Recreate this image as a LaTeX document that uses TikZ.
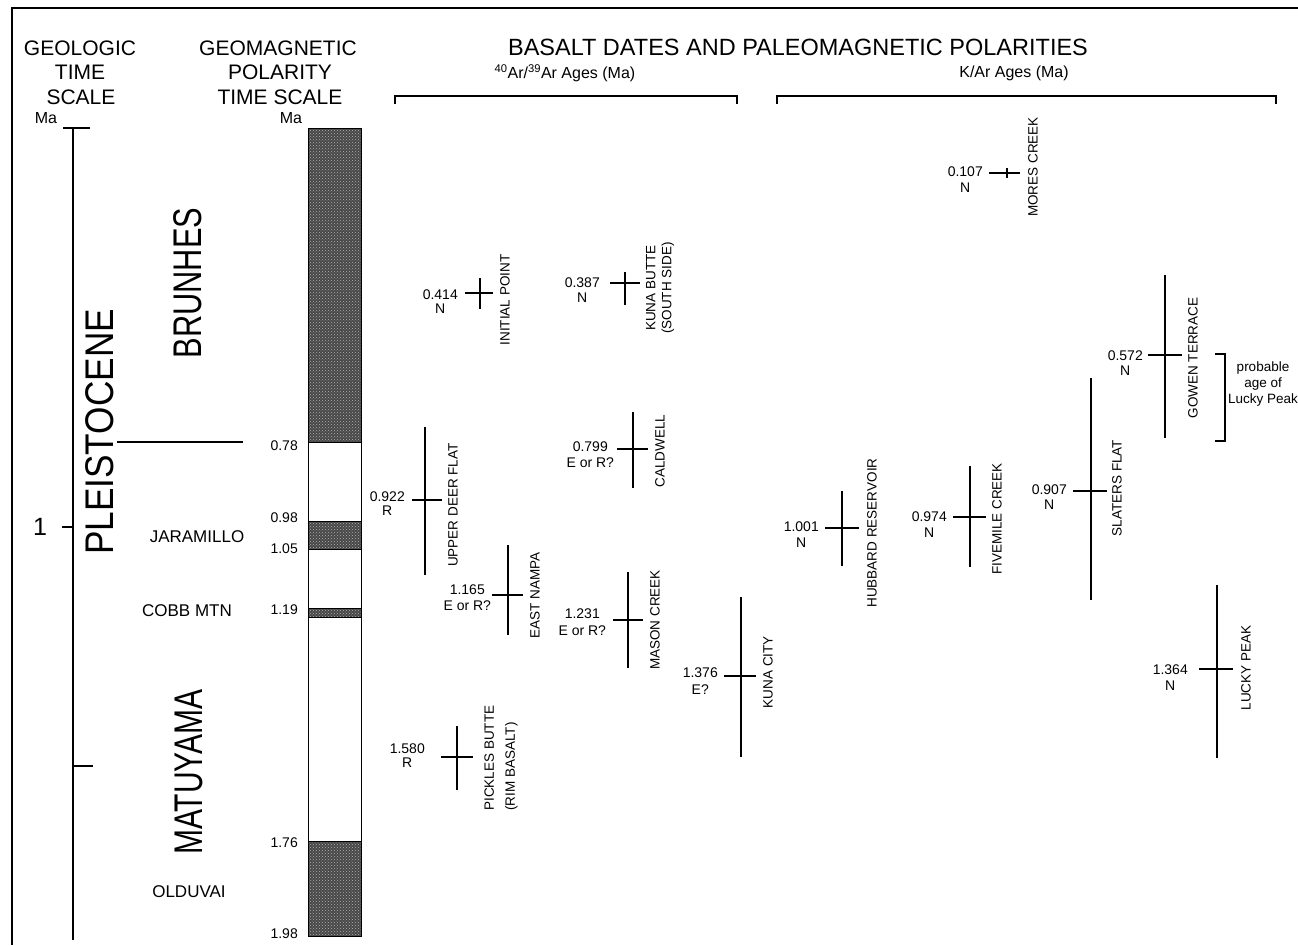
\documentclass[tikz,border=0pt]{standalone}
\usepackage{fontspec}
\setmainfont{Liberation Sans}
\usetikzlibrary{patterns}
\begin{document}
\begin{tikzpicture}[x=1pt,y=-1pt,
  hd/.style={font=\fontsize{21}{25}\selectfont, inner sep=0},
  era/.style={font=\fontsize{40}{46}\selectfont, inner sep=0, rotate=90},
  sub/.style={font=\fontsize{17}{20}\selectfont, inner sep=0},
  tk/.style={font=\fontsize{14}{17}\selectfont, inner sep=0},
  num/.style={font=\fontsize{14}{16}\selectfont, inner sep=0},
  lbl/.style={font=\fontsize{13.5}{16}\selectfont, inner sep=0, rotate=90, align=center},
  ln/.style={line width=1.2pt},
  shade/.style={fill=black!72, postaction={pattern=crosshatch dots, pattern color=black!30}}]
\useasboundingbox (0,0) rectangle (1298,945);
% frame
\draw[line width=1.5pt] (12,945) -- (12,8) -- (1298,8);
% headers
\node[hd] (h1) at (80,48) {GEOLOGIC};
\node[hd] (h2) at (80,72) {TIME};
\node[hd] (h3) at (81,97) {SCALE};
\node[font=\fontsize{16}{19}\selectfont, inner sep=0] (ma1) at (46,118) {Ma};
\node[hd] (g1) at (278,48) {GEOMAGNETIC};
\node[hd] (g2) at (280,72) {POLARITY};
\node[hd] (g3) at (280,97) {TIME SCALE};
\node[font=\fontsize{16}{19}\selectfont, inner sep=0] (ma2) at (291,118) {Ma};
\node[hd, font=\fontsize{23.5}{28}\selectfont] (t1) at (798,47) {BASALT DATES AND PALEOMAGNETIC POLARITIES};
\node[font=\fontsize{16}{19}\selectfont, inner sep=0] (t2) at (565,73) {$^{\mathrm{40}}$Ar/$^{\mathrm{39}}$Ar Ages (Ma)};
\node[font=\fontsize{16}{19}\selectfont, inner sep=0] (t3) at (1014,73) {K/Ar Ages (Ma)};
\draw[ln] (395,104) -- (395,96) -- (737,96) -- (737,104);
\draw[ln] (777,104) -- (777,96) -- (1276,96) -- (1276,104);
% geologic time scale
\draw[ln] (73,128) -- (73,940);
\draw[ln] (63,128) -- (90,128);
\draw[ln] (62,527) -- (73,527);
\draw[ln] (73,766) -- (93,766);
\draw[ln] (117,442) -- (243,442);
\node[font=\fontsize{25}{30}\selectfont, inner sep=0] (one) at (40,527) {1};
\node[era, font=\fontsize{40}{46}\selectfont] (pl) at (100,432) {\scalebox{0.88}[1]{PLEISTOCENE}};
\node[era] (br) at (188,283) {\scalebox{0.77}[1]{BRUNHES}};
\node[era] (mt) at (189,772) {\scalebox{0.75}[1]{MATUYAMA}};
\node[sub] (ja) at (197,537) {JARAMILLO};
\node[sub] (cb) at (187,611) {COBB MTN};
\node[sub] (ol) at (189,892) {OLDUVAI};
% polarity column
\draw[shade] (308,128) rectangle (361,442);
\draw[shade] (308,521) rectangle (361,549);
\draw[shade] (308,608) rectangle (361,617);
\draw[shade] (308,841) rectangle (361,936);
\draw[line width=1pt] (308,128) rectangle (361,936);
\draw[line width=1pt] (308,442) -- (361,442) (308,521) -- (361,521) (308,549) -- (361,549)
  (308,608) -- (361,608) (308,617) -- (361,617) (308,841) -- (361,841);
\node[tk, anchor=east] (p1) at (298,446) {0.78};
\node[tk, anchor=east] (p2) at (298,518) {0.98};
\node[tk, anchor=east] (p3) at (298,549) {1.05};
\node[tk, anchor=east] (p4) at (298,610) {1.19};
\node[tk, anchor=east] (p5) at (298,843) {1.76};
\node[tk, anchor=east] (p6) at (298,934) {1.98};
% INITIAL POINT
\draw[ln] (480,278) -- (480,309);
\draw[ln] (465,293) -- (493,293);
\node[num, anchor=east] (ipn) at (458,295) {0.414};
\node[num] (ipp) at ([yshift=-14pt]ipn.center) {N};
\node[lbl] (ipl) at (505,300) {INITIAL POINT};
% KUNA BUTTE
\draw[ln] (625,272) -- (625,305);
\draw[ln] (610,283) -- (640,283);
\node[num, anchor=east] (kbn) at (600,283) {0.387};
\node[num] (kbp) at ([yshift=-15pt]kbn.center) {N};
\node[lbl] (kbl) at (660,288) {KUNA BUTTE\\(SOUTH SIDE)};
% UPPER DEER FLAT
\draw[ln] (425,427) -- (425,575);
\draw[ln] (412,500) -- (442,500);
\node[num, anchor=east] (udn) at (405,497) {0.922};
\node[num] (udp) at ([yshift=-14pt]udn.center) {R};
\node[lbl] (udl) at (453,505) {UPPER DEER FLAT};
% CALDWELL
\draw[ln] (633,412) -- (633,488);
\draw[ln] (617,449) -- (648,449);
\node[num, anchor=east] (cwn) at (608,447) {0.799};
\node[num] (cwp) at ([yshift=-16pt]cwn.center) {E or R?};
\node[lbl] (cwl) at (660,451) {CALDWELL};
% EAST NAMPA
\draw[ln] (508,545) -- (508,635);
\draw[ln] (492,595) -- (523,595);
\node[num, anchor=east] (enn) at (485,590) {1.165};
\node[num] (enp) at ([yshift=-16pt]enn.center) {E or R?};
\node[lbl] (enl) at (535,595) {EAST NAMPA};
% MASON CREEK
\draw[ln] (628,572) -- (628,668);
\draw[ln] (613,620) -- (643,620);
\node[num, anchor=east] (mcn) at (600,614) {1.231};
\node[num] (mcp) at ([yshift=-17pt]mcn.center) {E or R?};
\node[lbl] (mcl) at (655,620) {MASON CREEK};
% KUNA CITY
\draw[ln] (741,597) -- (741,757);
\draw[ln] (724,676) -- (756,676);
\node[num, anchor=east] (kcn) at (718,673) {1.376};
\node[num] (kcp) at ([yshift=-17pt]kcn.center) {E?};
\node[lbl] (kcl) at (768,672) {KUNA CITY};
% PICKLES BUTTE
\draw[ln] (457,726) -- (457,790);
\draw[ln] (441,757) -- (473,757);
\node[num, anchor=east] (pbn) at (425,749) {1.580};
\node[num] (pbp) at ([yshift=-13.5pt]pbn.center) {R};
\node[lbl, align=left, font=\fontsize{13.5}{21}\selectfont] (pbl) at (501,758) {PICKLES BUTTE\\(RIM BASALT)};
% HUBBARD RESERVOIR
\draw[ln] (842,491) -- (842,566);
\draw[ln] (825,528) -- (859,528);
\node[num, anchor=east] (hrn) at (819,527) {1.001};
\node[num] (hrp) at ([yshift=-16pt]hrn.center) {N};
\node[lbl] (hrl) at (872,533) {HUBBARD RESERVOIR};
% FIVEMILE CREEK
\draw[ln] (970,466) -- (970,567);
\draw[ln] (953,517) -- (986,517);
\node[num, anchor=east] (fcn) at (947,517) {0.974};
\node[num] (fcp) at ([yshift=-16pt]fcn.center) {N};
\node[lbl] (fcl) at (997,519) {FIVEMILE CREEK};
% SLATERS FLAT
\draw[ln] (1091,378) -- (1091,600);
\draw[ln] (1073,491) -- (1107,491);
\node[num, anchor=east] (sfn) at (1067,490) {0.907};
\node[num] (sfp) at ([yshift=-15pt]sfn.center) {N};
\node[lbl] (sfl) at (1117,488) {SLATERS FLAT};
% GOWEN TERRACE
\draw[ln] (1165,275) -- (1165,438);
\draw[ln] (1148,355) -- (1182,355);
\node[num, anchor=east] (gtn) at (1143,356) {0.572};
\node[num] (gtp) at ([yshift=-15pt]gtn.center) {N};
\node[lbl] (gtl) at (1193,358) {GOWEN TERRACE};
\draw[ln] (1215,354) -- (1225,354) -- (1225,441) -- (1215,441);
\node[font=\fontsize{13.5}{16}\selectfont, inner sep=0, align=center] (prob) at (1263,384) {probable\\age of\\Lucky Peak};
% LUCKY PEAK
\draw[ln] (1217,585) -- (1217,758);
\draw[ln] (1199,669) -- (1233,669);
\node[num, anchor=east] (lpn) at (1188,670) {1.364};
\node[num] (lpp) at ([yshift=-16pt]lpn.center) {N};
\node[lbl] (lpl) at (1246,668) {LUCKY PEAK};
% MORES CREEK
\draw[ln] (1007,168) -- (1007,178);
\draw[ln] (989,173) -- (1020,173);
\node[num, anchor=east] (mrn) at (983,172) {0.107};
\node[num] (mrp) at ([yshift=-16pt]mrn.center) {N};
\node[lbl] (mrl) at (1033,167) {MORES CREEK};
\end{tikzpicture}
\end{document}
